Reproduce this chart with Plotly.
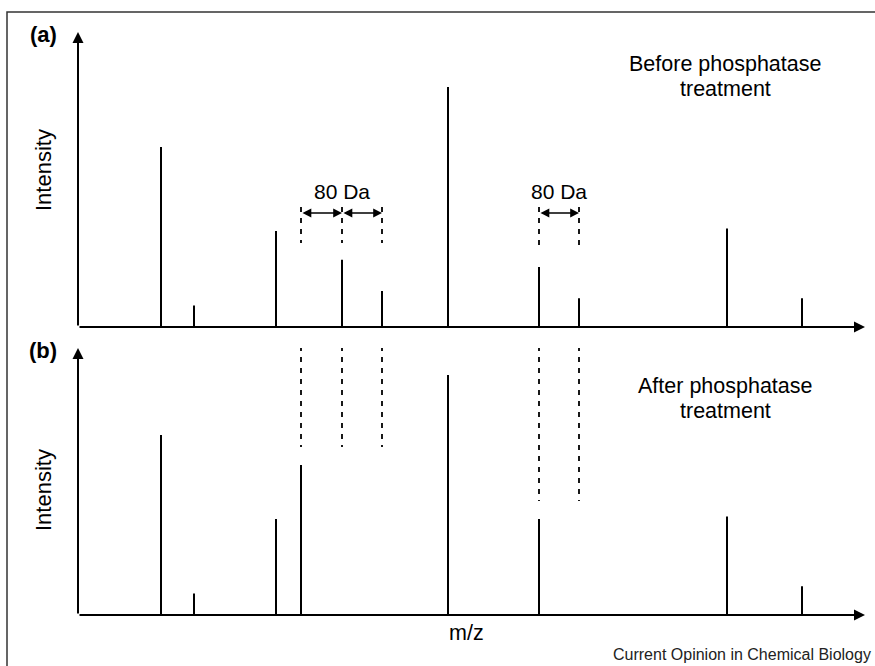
import plotly.graph_objects as go

# ---- data (m/z in arbitrary Da units, intensity in % of base peak) ----
mz_before = [166, 232, 396, 528, 608, 740, 922, 1002, 1298, 1448]
int_before = [75, 9, 40, 28, 15, 100, 25, 12, 41, 12]

mz_after = [166, 232, 396, 446, 740, 922, 1298, 1448]
int_after = [75, 9, 40, 62.5, 100, 40, 41, 12]

guide_left = [446, 528, 608]      # phospho series, 80 Da apart
guide_right = [922, 1002]
span_pairs = [(446, 528), (528, 608), (922, 1002)]
span_label = "80 Da"

panel_labels = ["(a)", "(b)"]
panel_titles = [["Before phosphatase", "treatment"], ["After phosphatase", "treatment"]]
y_title = "Intensity"
x_title = "m/z"
credit = "Current Opinion in Chemical Biology"

# guide extents (intensity units)
guide_a_left = (35, 50)
guide_a_right = (31.7, 50)
guide_b_left = (70, 112.1)
guide_b_right = (47.5, 112.1)
arrow_y_a = 47.5
label_y_a = 56.3

W, H = 875, 666
FONT = "Liberation Sans, Arial, Helvetica, sans-serif"
X_MAX = 1574
YA_MAX = 122.9
YB_MAX = 111.25


def px(x):
    return x / W


def py(y):
    return 1 - y / H


def stems(xs, ys):
    sx, sy = [], []
    for x, y in zip(xs, ys):
        sx += [x, x, None]
        sy += [0, y, None]
    return sx, sy


def vlines(xs, y0, y1):
    # drawn top-down so the dash pattern starts at the top end
    sx, sy = [], []
    for x in xs:
        sx += [x, x, None]
        sy += [y1, y0, None]
    return sx, sy


fig = go.Figure()

ax, ay = stems(mz_before, int_before)
fig.add_trace(go.Scatter(x=ax, y=ay, mode="lines", line=dict(color="black", width=2),
                         xaxis="x", yaxis="y", hoverinfo="skip", cliponaxis=False))
bx, by = stems(mz_after, int_after)
fig.add_trace(go.Scatter(x=bx, y=by, mode="lines", line=dict(color="black", width=2),
                         xaxis="x2", yaxis="y2", hoverinfo="skip", cliponaxis=False))

dash = dict(color="black", width=1.8, dash="5px,6px")
for xs, (y0, y1), xa, ya in [
    (guide_left, guide_a_left, "x", "y"),
    (guide_right, guide_a_right, "x", "y"),
    (guide_left, guide_b_left, "x2", "y2"),
    (guide_right, guide_b_right, "x2", "y2"),
]:
    gx, gy = vlines(xs, y0, y1)
    fig.add_trace(go.Scatter(x=gx, y=gy, mode="lines", line=dash, xaxis=xa, yaxis=ya,
                             hoverinfo="skip", cliponaxis=False))

ann = []
# axis arrows
for xr, yr, ymax in [("x", "y", YA_MAX), ("x2", "y2", YB_MAX)]:
    ann.append(dict(x=0, y=ymax, ax=0, ay=0, xref=xr, yref=yr, axref=xr, ayref=yr,
                    text="", showarrow=True, arrowhead=2, arrowsize=1.1, arrowwidth=2,
                    arrowcolor="black"))
    ann.append(dict(x=X_MAX, y=0, ax=0, ay=0, xref=xr, yref=yr, axref=xr, ayref=yr,
                    text="", showarrow=True, arrowhead=2, arrowsize=1.1, arrowwidth=2,
                    arrowcolor="black"))

# 80 Da spans
for a, b in span_pairs:
    ann.append(dict(x=b, y=arrow_y_a, ax=a, ay=arrow_y_a, xref="x", yref="y",
                    axref="x", ayref="y", text="", showarrow=True, arrowhead=2,
                    startarrowhead=2, arrowside="end+start", arrowsize=1.1,
                    startarrowsize=1.1, arrowwidth=1.6, arrowcolor="black"))
for cx in [guide_left[1], sum(guide_right) / 2]:
    ann.append(dict(x=cx, y=label_y_a, xref="x", yref="y", text=span_label,
                    xanchor="center", yanchor="middle",
                    showarrow=False, font=dict(size=21, family=FONT, color="black")))


def ptext(x, y, text, size=21, **kw):
    d = dict(x=px(x), y=py(y), xref="paper", yref="paper", text=text,
             showarrow=False, xanchor="center", yanchor="middle",
             font=dict(size=size, family=FONT, color=kw.pop("color", "black")))
    d.update(kw)
    return d


for lab, ty in zip(panel_labels, [35, 350]):
    ann.append(ptext(43, ty, "<b>%s</b>" % lab, size=22))
for lines, ty in zip(panel_titles, [64, 386]):
    for i, line in enumerate(lines):
        ann.append(ptext(725, ty + 25 * i, line, size=21.5))
for ty in [170, 490]:
    ann.append(ptext(43, ty, y_title, size=22, textangle=-90))
ann.append(ptext(466, 633, x_title, size=21.5))
ann.append(ptext(873, 654, credit, size=16, color="#222", xanchor="right"))

ax_common = dict(showgrid=False, zeroline=False, showticklabels=False, ticks="",
                 showline=False, fixedrange=True)
fig.update_layout(
    width=W, height=H, margin=dict(l=0, r=0, t=0, b=0),
    paper_bgcolor="white", plot_bgcolor="white", showlegend=False,
    xaxis=dict(domain=[px(78), px(865)], range=[0, X_MAX], anchor="y", **ax_common),
    yaxis=dict(domain=[py(327), py(32)], range=[0, YA_MAX], anchor="x", **ax_common),
    xaxis2=dict(domain=[px(78), px(865)], range=[0, X_MAX], anchor="y2", **ax_common),
    yaxis2=dict(domain=[py(615), py(348)], range=[0, YB_MAX], anchor="x2", **ax_common),
    annotations=ann,
    shapes=[dict(type="rect", xref="paper", yref="paper", x0=px(7), x1=1.2,
                 y0=-0.2, y1=py(12), line=dict(color="#333", width=1.5))],
)

fig.write_html("out.html", config={"displayModeBar": False},
               post_script="document.body.style.margin='0';document.body.style.overflow='hidden';")
